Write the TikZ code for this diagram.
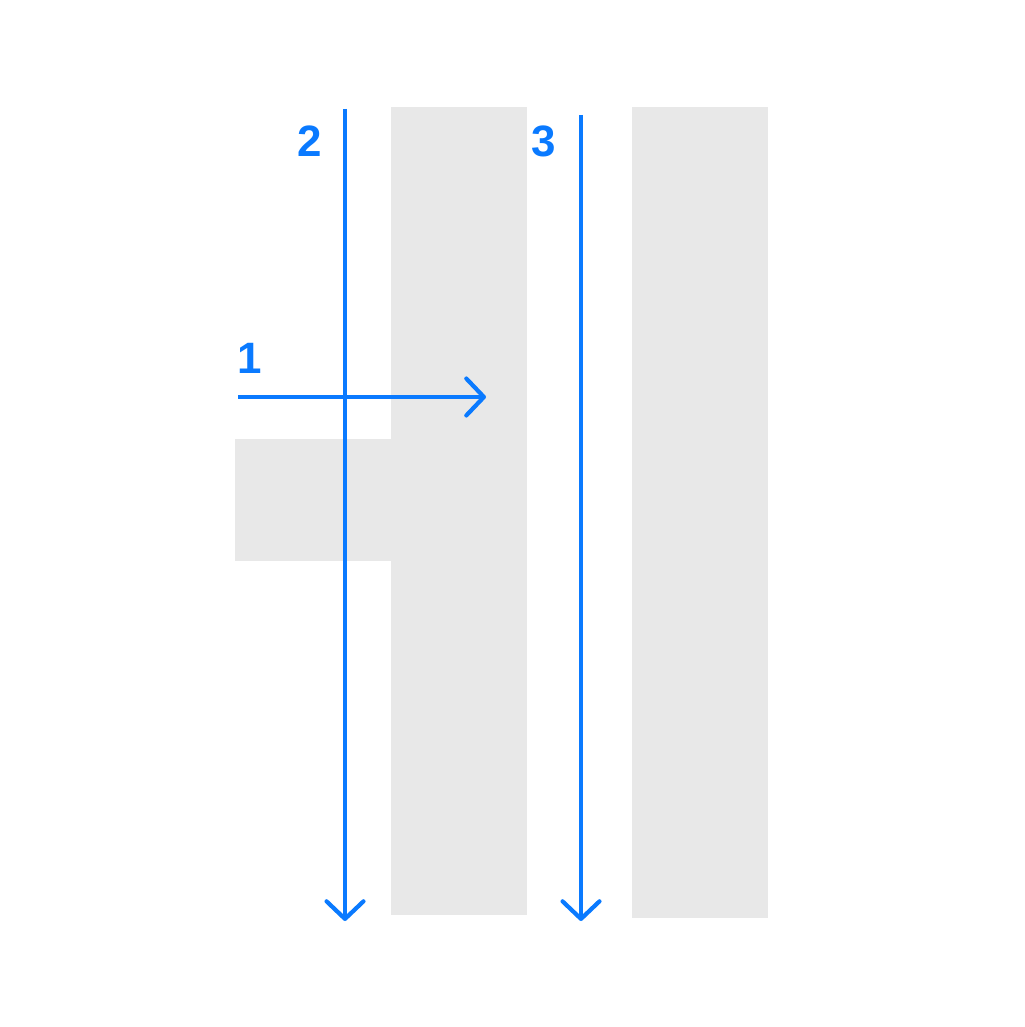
\documentclass[tikz,border=0pt]{standalone}
\usepackage{fontspec}
\setmainfont{Liberation Sans}
\usetikzlibrary{arrows.meta}
\tikzset{every node/.style={font=\bfseries\fontsize{25}{25}\selectfont}}
\colorlet{slabcol}{black!9}
\definecolor{pathcol}{HTML}{0A7AFF}

\begin{document}
\begin{tikzpicture}[x=0.02cm, y=-0.02cm,
    path/.style={line width=2.4pt, pathcol, line cap=butt,
      -{Straight Barb[length=10pt, width=21pt, round, line width=0pt 1]}},
    tag/.style={text=pathcol, inner sep=0pt}]

  % Page frame.
  \useasboundingbox (0,0) rectangle (1024,1027);

  % Gray slabs.
  \fill[slabcol] (391,107) rectangle (527,915);
  \fill[slabcol] (235,439) rectangle (391,561);
  \fill[slabcol] (632,107) rectangle (768,918);

  % Path ends.
  \coordinate (a1) at (238,397);
  \coordinate (b1) at (486,397);
  \coordinate (a2) at (345,109);
  \coordinate (b2) at (345,921);
  \coordinate (a3) at (581,115);
  \coordinate (b3) at (581,921);

  % Paths.
  \draw[path] (a1) -- (b1);
  \draw[path] (a2) -- (b2);
  \draw[path] (a3) -- (b3);

  % Path labels.
  \node[tag] (t1) at (250,358) {1};
  \node[tag] (t2) at (310,141) {2};
  \node[tag] (t3) at (544,141) {3};

\end{tikzpicture}
\end{document}
